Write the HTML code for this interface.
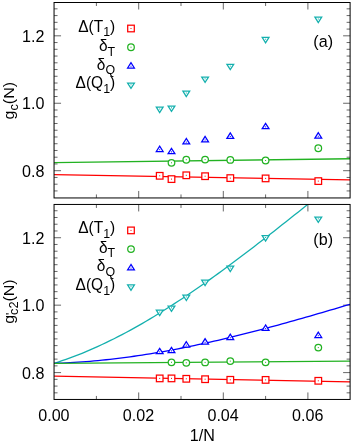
<!DOCTYPE html>
<html><head><meta charset="utf-8"><title>plot</title><style>html,body{margin:0;padding:0;background:#fff}svg{display:block;will-change:transform}svg,svg text,svg tspan{font-family:"Liberation Sans",sans-serif}</style></head><body>
<svg width="354" height="443" viewBox="0 0 354 443" font-size="15.5" fill="#000">
<rect width="354" height="443" fill="#fff"/>
<clipPath id="cp0"><rect x="54.05" y="2.50" width="296.05" height="195.45"/></clipPath>
<path d="M54.05 190.93 h3.50 M350.10 190.93 h-3.50 M54.05 184.19 h3.50 M350.10 184.19 h-3.50 M54.05 177.44 h3.50 M350.10 177.44 h-3.50 M54.05 170.70 h7.00 M350.10 170.70 h-7.00 M54.05 163.96 h3.50 M350.10 163.96 h-3.50 M54.05 157.21 h3.50 M350.10 157.21 h-3.50 M54.05 150.47 h3.50 M350.10 150.47 h-3.50 M54.05 143.72 h3.50 M350.10 143.72 h-3.50 M54.05 136.98 h3.50 M350.10 136.98 h-3.50 M54.05 130.24 h3.50 M350.10 130.24 h-3.50 M54.05 123.49 h3.50 M350.10 123.49 h-3.50 M54.05 116.75 h3.50 M350.10 116.75 h-3.50 M54.05 110.00 h3.50 M350.10 110.00 h-3.50 M54.05 103.26 h7.00 M350.10 103.26 h-7.00 M54.05 96.52 h3.50 M350.10 96.52 h-3.50 M54.05 89.77 h3.50 M350.10 89.77 h-3.50 M54.05 83.03 h3.50 M350.10 83.03 h-3.50 M54.05 76.28 h3.50 M350.10 76.28 h-3.50 M54.05 69.54 h3.50 M350.10 69.54 h-3.50 M54.05 62.80 h3.50 M350.10 62.80 h-3.50 M54.05 56.05 h3.50 M350.10 56.05 h-3.50 M54.05 49.31 h3.50 M350.10 49.31 h-3.50 M54.05 42.56 h3.50 M350.10 42.56 h-3.50 M54.05 35.82 h7.00 M350.10 35.82 h-7.00 M54.05 29.08 h3.50 M350.10 29.08 h-3.50 M54.05 22.33 h3.50 M350.10 22.33 h-3.50 M54.05 15.59 h3.50 M350.10 15.59 h-3.50 M54.05 8.84 h3.50 M350.10 8.84 h-3.50 M96.40 197.95 v-3.50 M96.40 2.50 v3.50 M138.70 197.95 v-7.00 M138.70 2.50 v7.00 M181.00 197.95 v-3.50 M181.00 2.50 v3.50 M223.30 197.95 v-7.00 M223.30 2.50 v7.00 M265.60 197.95 v-3.50 M265.60 2.50 v3.50 M307.90 197.95 v-7.00 M307.90 2.50 v7.00" stroke="#000" stroke-width="0.6" fill="none"/>
<g clip-path="url(#cp0)" fill="none" stroke-width="1.3"><path d="M54.05 162.7 L350.10 158.75" stroke="#22b222"/><path d="M54.05 174.6 L350.10 179.8" stroke="#ff0000"/></g>
<rect x="54.05" y="2.50" width="296.05" height="195.45" fill="none" stroke="#000" stroke-width="1"/>
<rect x="156.40" y="172.50" width="6.60" height="6.60" fill="#fff" stroke="#ff0000" stroke-width="1.25"/><rect x="159.20" y="175.30" width="1" height="1" fill="#ff0000"/>
<rect x="168.20" y="175.80" width="6.60" height="6.60" fill="#fff" stroke="#ff0000" stroke-width="1.25"/><rect x="171.00" y="178.60" width="1" height="1" fill="#ff0000"/>
<rect x="183.00" y="172.00" width="6.60" height="6.60" fill="#fff" stroke="#ff0000" stroke-width="1.25"/><rect x="185.80" y="174.80" width="1" height="1" fill="#ff0000"/>
<rect x="201.80" y="172.90" width="6.60" height="6.60" fill="#fff" stroke="#ff0000" stroke-width="1.25"/><rect x="204.60" y="175.70" width="1" height="1" fill="#ff0000"/>
<rect x="227.00" y="174.80" width="6.60" height="6.60" fill="#fff" stroke="#ff0000" stroke-width="1.25"/><rect x="229.80" y="177.60" width="1" height="1" fill="#ff0000"/>
<rect x="262.30" y="175.10" width="6.60" height="6.60" fill="#fff" stroke="#ff0000" stroke-width="1.25"/><rect x="265.10" y="177.90" width="1" height="1" fill="#ff0000"/>
<rect x="315.00" y="177.80" width="6.60" height="6.60" fill="#fff" stroke="#ff0000" stroke-width="1.25"/><rect x="317.80" y="180.60" width="1" height="1" fill="#ff0000"/>
<circle cx="171.50" cy="162.80" r="3.3" fill="#fff" stroke="#22b222" stroke-width="1.25"/><rect x="171.00" y="162.30" width="1" height="1" fill="#22b222"/>
<circle cx="186.30" cy="159.70" r="3.3" fill="#fff" stroke="#22b222" stroke-width="1.25"/><rect x="185.80" y="159.20" width="1" height="1" fill="#22b222"/>
<circle cx="205.10" cy="159.60" r="3.3" fill="#fff" stroke="#22b222" stroke-width="1.25"/><rect x="204.60" y="159.10" width="1" height="1" fill="#22b222"/>
<circle cx="230.30" cy="159.90" r="3.3" fill="#fff" stroke="#22b222" stroke-width="1.25"/><rect x="229.80" y="159.40" width="1" height="1" fill="#22b222"/>
<circle cx="265.60" cy="160.50" r="3.3" fill="#fff" stroke="#22b222" stroke-width="1.25"/><rect x="265.10" y="160.00" width="1" height="1" fill="#22b222"/>
<circle cx="318.30" cy="148.20" r="3.3" fill="#fff" stroke="#22b222" stroke-width="1.25"/><rect x="317.80" y="147.70" width="1" height="1" fill="#22b222"/>
<path d="M159.70 146.10 L156.30 151.50 L163.10 151.50 Z" fill="#fff" stroke="#0000ff" stroke-width="1.25"/><rect x="159.20" y="149.20" width="1" height="1" fill="#0000ff"/>
<path d="M171.50 148.30 L168.10 153.70 L174.90 153.70 Z" fill="#fff" stroke="#0000ff" stroke-width="1.25"/><rect x="171.00" y="151.40" width="1" height="1" fill="#0000ff"/>
<path d="M186.30 138.50 L182.90 143.90 L189.70 143.90 Z" fill="#fff" stroke="#0000ff" stroke-width="1.25"/><rect x="185.80" y="141.60" width="1" height="1" fill="#0000ff"/>
<path d="M205.10 136.40 L201.70 141.80 L208.50 141.80 Z" fill="#fff" stroke="#0000ff" stroke-width="1.25"/><rect x="204.60" y="139.50" width="1" height="1" fill="#0000ff"/>
<path d="M230.30 132.90 L226.90 138.30 L233.70 138.30 Z" fill="#fff" stroke="#0000ff" stroke-width="1.25"/><rect x="229.80" y="136.00" width="1" height="1" fill="#0000ff"/>
<path d="M265.60 123.30 L262.20 128.70 L269.00 128.70 Z" fill="#fff" stroke="#0000ff" stroke-width="1.25"/><rect x="265.10" y="126.40" width="1" height="1" fill="#0000ff"/>
<path d="M318.30 132.70 L314.90 138.10 L321.70 138.10 Z" fill="#fff" stroke="#0000ff" stroke-width="1.25"/><rect x="317.80" y="135.80" width="1" height="1" fill="#0000ff"/>
<path d="M159.70 112.60 L156.30 107.20 L163.10 107.20 Z" fill="#fff" stroke="#14b0ae" stroke-width="1.25"/><rect x="159.20" y="108.50" width="1" height="1" fill="#14b0ae"/>
<path d="M171.50 111.40 L168.10 106.00 L174.90 106.00 Z" fill="#fff" stroke="#14b0ae" stroke-width="1.25"/><rect x="171.00" y="107.30" width="1" height="1" fill="#14b0ae"/>
<path d="M186.30 96.60 L182.90 91.20 L189.70 91.20 Z" fill="#fff" stroke="#14b0ae" stroke-width="1.25"/><rect x="185.80" y="92.50" width="1" height="1" fill="#14b0ae"/>
<path d="M205.10 82.40 L201.70 77.00 L208.50 77.00 Z" fill="#fff" stroke="#14b0ae" stroke-width="1.25"/><rect x="204.60" y="78.30" width="1" height="1" fill="#14b0ae"/>
<path d="M230.30 69.70 L226.90 64.30 L233.70 64.30 Z" fill="#fff" stroke="#14b0ae" stroke-width="1.25"/><rect x="229.80" y="65.60" width="1" height="1" fill="#14b0ae"/>
<path d="M265.60 42.80 L262.20 37.40 L269.00 37.40 Z" fill="#fff" stroke="#14b0ae" stroke-width="1.25"/><rect x="265.10" y="38.70" width="1" height="1" fill="#14b0ae"/>
<path d="M318.30 22.60 L314.90 17.20 L321.70 17.20 Z" fill="#fff" stroke="#14b0ae" stroke-width="1.25"/><rect x="317.80" y="18.50" width="1" height="1" fill="#14b0ae"/>
<rect x="127.70" y="25.20" width="6.60" height="6.60" fill="#fff" stroke="#ff0000" stroke-width="1.25"/><rect x="130.50" y="28.00" width="1" height="1" fill="#ff0000"/>
<circle cx="131.00" cy="47.20" r="3.3" fill="#fff" stroke="#22b222" stroke-width="1.25"/><rect x="130.50" y="46.70" width="1" height="1" fill="#22b222"/>
<path d="M131.00 62.60 L127.60 68.00 L134.40 68.00 Z" fill="#fff" stroke="#0000ff" stroke-width="1.25"/><rect x="130.50" y="65.70" width="1" height="1" fill="#0000ff"/>
<path d="M131.00 88.40 L127.60 83.00 L134.40 83.00 Z" fill="#fff" stroke="#14b0ae" stroke-width="1.25"/><rect x="130.50" y="84.30" width="1" height="1" fill="#14b0ae"/>
<text transform="translate(115.20 31.50) scale(1.0 1.1)" text-anchor="end">Δ(T<tspan font-size="12.40" dy="4.50">1</tspan><tspan dy="-4.50">)</tspan></text>
<text transform="translate(115.10 50.60) scale(1.0 1.1)" text-anchor="end">δ<tspan font-size="12.40" dy="4.50">T</tspan></text>
<text transform="translate(115.10 69.50) scale(1.0 1.1)" text-anchor="end">δ<tspan font-size="12.40" dy="4.50">Q</tspan></text>
<text transform="translate(115.20 87.80) scale(1.0 1.1)" text-anchor="end">Δ(Q<tspan font-size="12.40" dy="4.50">1</tspan><tspan dy="-4.50">)</tspan></text>
<text transform="translate(323.20 47.40) scale(1.04 1.1)" text-anchor="middle">(a)</text>
<text transform="translate(44.40 41.72) scale(1.04 1.1)" text-anchor="end">1.2</text>
<text transform="translate(44.40 109.16) scale(1.04 1.1)" text-anchor="end">1.0</text>
<text transform="translate(44.40 176.60) scale(1.04 1.1)" text-anchor="end">0.8</text>
<clipPath id="cp1"><rect x="54.05" y="204.45" width="296.05" height="195.00"/></clipPath>
<path d="M54.05 392.83 h3.50 M350.10 392.83 h-3.50 M54.05 386.09 h3.50 M350.10 386.09 h-3.50 M54.05 379.34 h3.50 M350.10 379.34 h-3.50 M54.05 372.60 h7.00 M350.10 372.60 h-7.00 M54.05 365.86 h3.50 M350.10 365.86 h-3.50 M54.05 359.11 h3.50 M350.10 359.11 h-3.50 M54.05 352.37 h3.50 M350.10 352.37 h-3.50 M54.05 345.62 h3.50 M350.10 345.62 h-3.50 M54.05 338.88 h3.50 M350.10 338.88 h-3.50 M54.05 332.14 h3.50 M350.10 332.14 h-3.50 M54.05 325.39 h3.50 M350.10 325.39 h-3.50 M54.05 318.65 h3.50 M350.10 318.65 h-3.50 M54.05 311.90 h3.50 M350.10 311.90 h-3.50 M54.05 305.16 h7.00 M350.10 305.16 h-7.00 M54.05 298.42 h3.50 M350.10 298.42 h-3.50 M54.05 291.67 h3.50 M350.10 291.67 h-3.50 M54.05 284.93 h3.50 M350.10 284.93 h-3.50 M54.05 278.18 h3.50 M350.10 278.18 h-3.50 M54.05 271.44 h3.50 M350.10 271.44 h-3.50 M54.05 264.70 h3.50 M350.10 264.70 h-3.50 M54.05 257.95 h3.50 M350.10 257.95 h-3.50 M54.05 251.21 h3.50 M350.10 251.21 h-3.50 M54.05 244.46 h3.50 M350.10 244.46 h-3.50 M54.05 237.72 h7.00 M350.10 237.72 h-7.00 M54.05 230.98 h3.50 M350.10 230.98 h-3.50 M54.05 224.23 h3.50 M350.10 224.23 h-3.50 M54.05 217.49 h3.50 M350.10 217.49 h-3.50 M54.05 210.74 h3.50 M350.10 210.74 h-3.50 M96.40 399.45 v-3.50 M96.40 204.45 v3.50 M138.70 399.45 v-7.00 M138.70 204.45 v7.00 M181.00 399.45 v-3.50 M181.00 204.45 v3.50 M223.30 399.45 v-7.00 M223.30 204.45 v7.00 M265.60 399.45 v-3.50 M265.60 204.45 v3.50 M307.90 399.45 v-7.00 M307.90 204.45 v7.00" stroke="#000" stroke-width="0.6" fill="none"/>
<g clip-path="url(#cp1)" fill="none" stroke-width="1.3"><path d="M54.05 363.30 L58.05 362.04 L62.05 360.71 L66.05 359.34 L70.05 357.90 L74.05 356.41 L78.05 354.87 L82.05 353.28 L86.05 351.63 L90.05 349.93 L94.05 348.18 L98.05 346.38 L102.05 344.53 L106.05 342.64 L110.05 340.70 L114.05 338.71 L118.05 336.67 L122.05 334.60 L126.05 332.47 L130.05 330.31 L134.05 328.10 L138.05 325.86 L142.05 323.57 L146.05 321.24 L150.05 318.88 L154.05 316.47 L158.05 314.03 L162.05 311.56 L166.05 309.05 L170.05 306.50 L174.05 303.92 L178.05 301.31 L182.05 298.67 L186.05 296.00 L190.05 293.30 L194.05 290.56 L198.05 287.80 L202.05 285.02 L206.05 282.20 L210.05 279.36 L214.05 276.50 L218.05 273.61 L222.05 270.70 L226.05 267.77 L230.05 264.81 L234.05 261.84 L238.05 258.84 L242.05 255.83 L246.05 252.80 L250.05 249.75 L254.05 246.68 L258.05 243.60 L262.05 240.51 L266.05 237.40 L270.05 234.28 L274.05 231.15 L278.05 228.00 L282.05 224.85 L286.05 221.69 L290.05 218.51 L294.05 215.33 L298.05 212.15 L302.05 208.96 L306.05 205.76 L310.05 202.56 L314.05 199.35 L318.05 196.14 L322.05 192.93 L326.05 189.72 L330.05 186.51 L334.05 183.30 L338.05 180.10 L342.05 176.89 L346.05 173.69 L350.05 170.49" stroke="#14b0ae"/><path d="M54.05 363.30 L58.05 363.18 L62.05 363.03 L66.05 362.86 L70.05 362.66 L74.05 362.43 L78.05 362.18 L82.05 361.91 L86.05 361.61 L90.05 361.29 L94.05 360.94 L98.05 360.58 L102.05 360.18 L106.05 359.77 L110.05 359.33 L114.05 358.87 L118.05 358.39 L122.05 357.89 L126.05 357.37 L130.05 356.82 L134.05 356.26 L138.05 355.68 L142.05 355.07 L146.05 354.45 L150.05 353.81 L154.05 353.15 L158.05 352.46 L162.05 351.77 L166.05 351.05 L170.05 350.32 L174.05 349.57 L178.05 348.80 L182.05 348.01 L186.05 347.21 L190.05 346.40 L194.05 345.56 L198.05 344.72 L202.05 343.85 L206.05 342.98 L210.05 342.08 L214.05 341.18 L218.05 340.26 L222.05 339.32 L226.05 338.38 L230.05 337.42 L234.05 336.45 L238.05 335.46 L242.05 334.47 L246.05 333.46 L250.05 332.44 L254.05 331.41 L258.05 330.37 L262.05 329.32 L266.05 328.26 L270.05 327.19 L274.05 326.11 L278.05 325.02 L282.05 323.93 L286.05 322.82 L290.05 321.71 L294.05 320.59 L298.05 319.46 L302.05 318.32 L306.05 317.18 L310.05 316.03 L314.05 314.88 L318.05 313.71 L322.05 312.55 L326.05 311.38 L330.05 310.20 L334.05 309.02 L338.05 307.83 L342.05 306.64 L346.05 305.45 L350.05 304.25" stroke="#0000ff"/><path d="M54.05 363.3 L350.10 361.2" stroke="#22b222"/><path d="M54.05 376.2 L350.10 381.9" stroke="#ff0000"/></g>
<rect x="54.05" y="204.45" width="296.05" height="195.00" fill="none" stroke="#000" stroke-width="1"/>
<rect x="156.40" y="375.10" width="6.60" height="6.60" fill="#fff" stroke="#ff0000" stroke-width="1.25"/><rect x="159.20" y="377.90" width="1" height="1" fill="#ff0000"/>
<rect x="168.20" y="375.10" width="6.60" height="6.60" fill="#fff" stroke="#ff0000" stroke-width="1.25"/><rect x="171.00" y="377.90" width="1" height="1" fill="#ff0000"/>
<rect x="183.00" y="375.50" width="6.60" height="6.60" fill="#fff" stroke="#ff0000" stroke-width="1.25"/><rect x="185.80" y="378.30" width="1" height="1" fill="#ff0000"/>
<rect x="201.80" y="375.90" width="6.60" height="6.60" fill="#fff" stroke="#ff0000" stroke-width="1.25"/><rect x="204.60" y="378.70" width="1" height="1" fill="#ff0000"/>
<rect x="227.00" y="376.50" width="6.60" height="6.60" fill="#fff" stroke="#ff0000" stroke-width="1.25"/><rect x="229.80" y="379.30" width="1" height="1" fill="#ff0000"/>
<rect x="262.30" y="376.60" width="6.60" height="6.60" fill="#fff" stroke="#ff0000" stroke-width="1.25"/><rect x="265.10" y="379.40" width="1" height="1" fill="#ff0000"/>
<rect x="315.00" y="377.50" width="6.60" height="6.60" fill="#fff" stroke="#ff0000" stroke-width="1.25"/><rect x="317.80" y="380.30" width="1" height="1" fill="#ff0000"/>
<circle cx="171.50" cy="362.30" r="3.3" fill="#fff" stroke="#22b222" stroke-width="1.25"/><rect x="171.00" y="361.80" width="1" height="1" fill="#22b222"/>
<circle cx="186.30" cy="362.80" r="3.3" fill="#fff" stroke="#22b222" stroke-width="1.25"/><rect x="185.80" y="362.30" width="1" height="1" fill="#22b222"/>
<circle cx="205.10" cy="362.40" r="3.3" fill="#fff" stroke="#22b222" stroke-width="1.25"/><rect x="204.60" y="361.90" width="1" height="1" fill="#22b222"/>
<circle cx="230.30" cy="361.10" r="3.3" fill="#fff" stroke="#22b222" stroke-width="1.25"/><rect x="229.80" y="360.60" width="1" height="1" fill="#22b222"/>
<circle cx="265.60" cy="362.30" r="3.3" fill="#fff" stroke="#22b222" stroke-width="1.25"/><rect x="265.10" y="361.80" width="1" height="1" fill="#22b222"/>
<circle cx="318.30" cy="347.60" r="3.3" fill="#fff" stroke="#22b222" stroke-width="1.25"/><rect x="317.80" y="347.10" width="1" height="1" fill="#22b222"/>
<path d="M159.70 348.30 L156.30 353.70 L163.10 353.70 Z" fill="#fff" stroke="#0000ff" stroke-width="1.25"/><rect x="159.20" y="351.40" width="1" height="1" fill="#0000ff"/>
<path d="M171.50 347.30 L168.10 352.70 L174.90 352.70 Z" fill="#fff" stroke="#0000ff" stroke-width="1.25"/><rect x="171.00" y="350.40" width="1" height="1" fill="#0000ff"/>
<path d="M186.30 341.60 L182.90 347.00 L189.70 347.00 Z" fill="#fff" stroke="#0000ff" stroke-width="1.25"/><rect x="185.80" y="344.70" width="1" height="1" fill="#0000ff"/>
<path d="M205.10 338.70 L201.70 344.10 L208.50 344.10 Z" fill="#fff" stroke="#0000ff" stroke-width="1.25"/><rect x="204.60" y="341.80" width="1" height="1" fill="#0000ff"/>
<path d="M230.30 334.20 L226.90 339.60 L233.70 339.60 Z" fill="#fff" stroke="#0000ff" stroke-width="1.25"/><rect x="229.80" y="337.30" width="1" height="1" fill="#0000ff"/>
<path d="M265.60 325.00 L262.20 330.40 L269.00 330.40 Z" fill="#fff" stroke="#0000ff" stroke-width="1.25"/><rect x="265.10" y="328.10" width="1" height="1" fill="#0000ff"/>
<path d="M318.30 332.10 L314.90 337.50 L321.70 337.50 Z" fill="#fff" stroke="#0000ff" stroke-width="1.25"/><rect x="317.80" y="335.20" width="1" height="1" fill="#0000ff"/>
<path d="M159.70 315.60 L156.30 310.20 L163.10 310.20 Z" fill="#fff" stroke="#14b0ae" stroke-width="1.25"/><rect x="159.20" y="311.50" width="1" height="1" fill="#14b0ae"/>
<path d="M171.50 311.40 L168.10 306.00 L174.90 306.00 Z" fill="#fff" stroke="#14b0ae" stroke-width="1.25"/><rect x="171.00" y="307.30" width="1" height="1" fill="#14b0ae"/>
<path d="M186.30 300.50 L182.90 295.10 L189.70 295.10 Z" fill="#fff" stroke="#14b0ae" stroke-width="1.25"/><rect x="185.80" y="296.40" width="1" height="1" fill="#14b0ae"/>
<path d="M205.10 285.60 L201.70 280.20 L208.50 280.20 Z" fill="#fff" stroke="#14b0ae" stroke-width="1.25"/><rect x="204.60" y="281.50" width="1" height="1" fill="#14b0ae"/>
<path d="M230.30 271.60 L226.90 266.20 L233.70 266.20 Z" fill="#fff" stroke="#14b0ae" stroke-width="1.25"/><rect x="229.80" y="267.50" width="1" height="1" fill="#14b0ae"/>
<path d="M265.60 241.10 L262.20 235.70 L269.00 235.70 Z" fill="#fff" stroke="#14b0ae" stroke-width="1.25"/><rect x="265.10" y="237.00" width="1" height="1" fill="#14b0ae"/>
<path d="M318.30 222.40 L314.90 217.00 L321.70 217.00 Z" fill="#fff" stroke="#14b0ae" stroke-width="1.25"/><rect x="317.80" y="218.30" width="1" height="1" fill="#14b0ae"/>
<rect x="127.70" y="227.10" width="6.60" height="6.60" fill="#fff" stroke="#ff0000" stroke-width="1.25"/><rect x="130.50" y="229.90" width="1" height="1" fill="#ff0000"/>
<circle cx="131.00" cy="249.10" r="3.3" fill="#fff" stroke="#22b222" stroke-width="1.25"/><rect x="130.50" y="248.60" width="1" height="1" fill="#22b222"/>
<path d="M131.00 264.50 L127.60 269.90 L134.40 269.90 Z" fill="#fff" stroke="#0000ff" stroke-width="1.25"/><rect x="130.50" y="267.60" width="1" height="1" fill="#0000ff"/>
<path d="M131.00 290.30 L127.60 284.90 L134.40 284.90 Z" fill="#fff" stroke="#14b0ae" stroke-width="1.25"/><rect x="130.50" y="286.20" width="1" height="1" fill="#14b0ae"/>
<text transform="translate(115.20 233.40) scale(1.0 1.1)" text-anchor="end">Δ(T<tspan font-size="12.40" dy="4.50">1</tspan><tspan dy="-4.50">)</tspan></text>
<text transform="translate(115.10 252.50) scale(1.0 1.1)" text-anchor="end">δ<tspan font-size="12.40" dy="4.50">T</tspan></text>
<text transform="translate(115.10 271.40) scale(1.0 1.1)" text-anchor="end">δ<tspan font-size="12.40" dy="4.50">Q</tspan></text>
<text transform="translate(115.20 289.70) scale(1.0 1.1)" text-anchor="end">Δ(Q<tspan font-size="12.40" dy="4.50">1</tspan><tspan dy="-4.50">)</tspan></text>
<text transform="translate(323.20 245.40) scale(1.04 1.1)" text-anchor="middle">(b)</text>
<text transform="translate(44.40 243.62) scale(1.04 1.1)" text-anchor="end">1.2</text>
<text transform="translate(44.40 311.06) scale(1.04 1.1)" text-anchor="end">1.0</text>
<text transform="translate(44.40 378.50) scale(1.04 1.1)" text-anchor="end">0.8</text>
<text transform="translate(53.90 421.10) scale(1.04 1.1)" text-anchor="middle">0.00</text>
<text transform="translate(138.50 421.10) scale(1.04 1.1)" text-anchor="middle">0.02</text>
<text transform="translate(223.10 421.10) scale(1.04 1.1)" text-anchor="middle">0.04</text>
<text transform="translate(307.70 421.10) scale(1.04 1.1)" text-anchor="middle">0.06</text>
<text transform="translate(202.40 440.60) scale(1.04 1.1)" text-anchor="middle">1/N</text>
<text transform="translate(13.50 100.70) rotate(-90) scale(1.03 1.0)" text-anchor="middle">g<tspan font-size="12.40" dy="4.65">c</tspan><tspan dy="-4.65">(N)</tspan></text>
<text transform="translate(13.50 301.60) rotate(-90) scale(1.03 1.0)" text-anchor="middle">g<tspan font-size="12.40" dy="4.65">c2</tspan><tspan dy="-4.65">(N)</tspan></text>
<text transform="translate(13.5 301.6) rotate(-90)" x="-13.3" y="1.6" font-size="12.40">'</text>
</svg>
</body></html>
